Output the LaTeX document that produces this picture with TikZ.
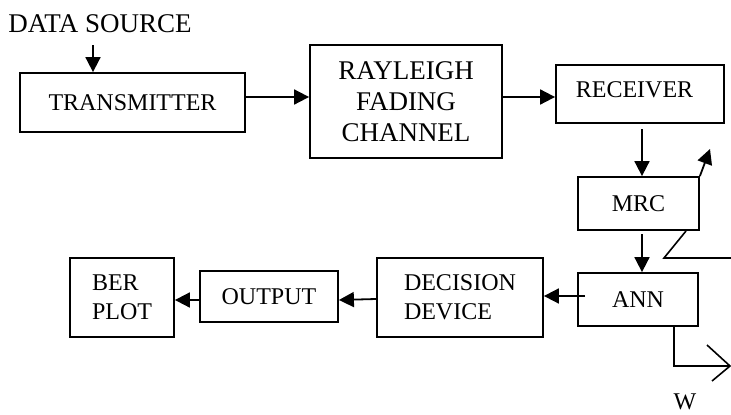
\documentclass[tikz,border=0pt]{standalone}
\usepackage{fontspec}
\setmainfont{Liberation Serif}
\usetikzlibrary{arrows.meta}
\begin{document}
\begin{tikzpicture}[x=1pt,y=-1pt,
  font=\fontsize{24}{29}\selectfont,
  big/.style={font=\fontsize{27}{31}\selectfont},
  blk/.style={draw,line width=1.8pt,inner sep=0pt,align=left,anchor=center},
  conn/.style={line width=1.8pt,-{Triangle[length=15pt,width=15pt]}},
  plain/.style={line width=1.6pt}]
\useasboundingbox (0,0) rectangle (731,415);
\node[big] (ds) at (100,24) {DATA SOURCE};
\node[blk,minimum width=225pt,minimum height=59pt] (tx) at (132.5,102.5) {TRANSMITTER};
\node[blk,big,align=center,minimum width=192pt,minimum height=113pt] (ray) at (406,101.5) {RAYLEIGH\\FADING\\CHANNEL};
\node[blk,minimum width=168pt,minimum height=58pt] (rx) at (640,94) {};
\node[anchor=center] (rxt) at (634.5,90) {RECEIVER};
\node[blk,minimum width=121pt,minimum height=53pt] (mrc) at (638.5,203.5) {MRC};
\node[blk,minimum width=120pt,minimum height=53pt] (ann) at (638,299.5) {ANN};
\node[blk,minimum width=166pt,minimum height=79pt] (dec) at (460,297.5) {DECISION\\DEVICE};
\node[blk,minimum width=138pt,minimum height=51pt] (out) at (269,296.5) {OUTPUT};
\node[blk,minimum width=104pt,minimum height=79pt] (ber) at (122,297.5) {BER\\PLOT};
\node[anchor=base,inner sep=0pt] (w) at (685,409) {W};
% connectors
\coordinate (dsa) at (93,45);
\draw[conn] (dsa) -- (dsa |- tx.north);
\draw[conn] (tx.east |- 0,97) -- (ray.west |- 0,97);
\draw[conn] (ray.east |- 0,97) -- (rx.west |- 0,97);
\coordinate (rxb) at (642,129);
\draw[conn] (rxb) -- (rxb |- mrc.north);
\coordinate (mrctip) at (710,149);
\draw[conn] (mrc.north east) -- (mrctip);
\coordinate (z1) at (686,231);
\coordinate (z2) at (664,258);
\coordinate (z3) at (731,258);
\draw[plain] (z1) -- (z2) -- (z3);
\coordinate (mrcb) at (642,234);
\draw[conn] (mrcb) -- (mrcb |- ann.north);
\coordinate (anni) at (585,296);
\draw[conn] (anni) -- (dec.east |- anni);
\draw[conn] (dec.west |- 0,299) -- (out.east |- 0,300);
\draw[conn] (out.west |- 0,300) -- (ber.east |- 0,300);
\coordinate (wb) at (674,366);
\coordinate (we) at (730,366);
\coordinate (wc1) at (707,345);
\coordinate (wc2) at (712,381);
\draw[plain] (ann.south -| wb) -- (wb) -- (we);
\draw[plain] (wc1) -- (we) -- (wc2);
\end{tikzpicture}
\end{document}
